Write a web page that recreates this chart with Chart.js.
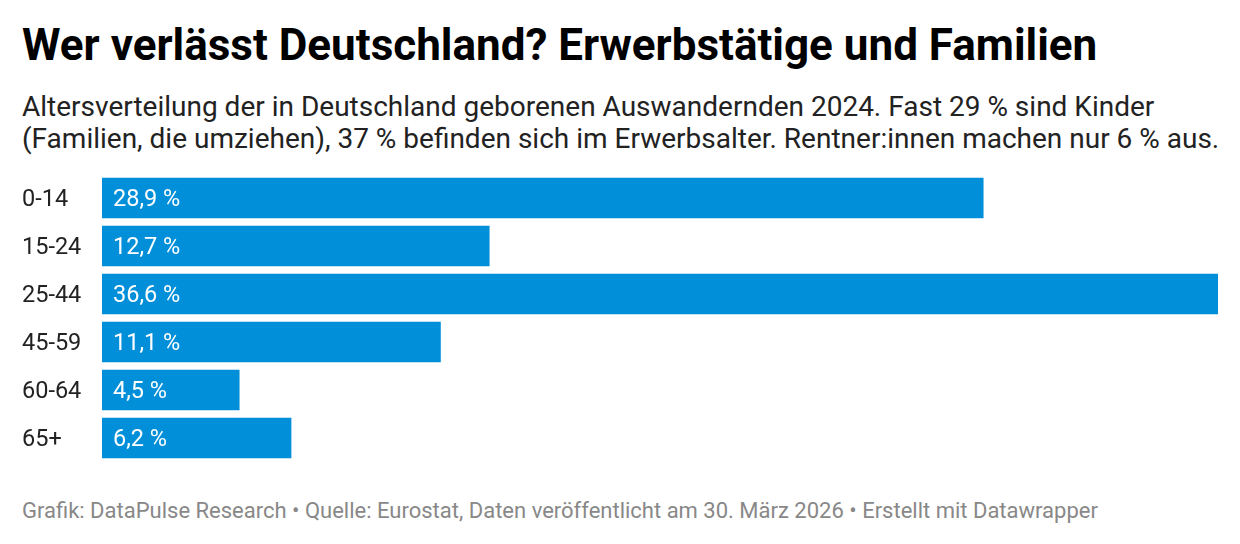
<!DOCTYPE html>
<html>
<head>
<meta charset="utf-8">
<script src="https://cdn.jsdelivr.net/npm/chart.js@4"></script>
<style>
  body { margin: 0; background: #fff; font-family: Roboto, sans-serif; }
  #wrap { position: relative; width: 1240px; height: 544px; }
  #title { position: absolute; left: 22px; top: 23px; font-size: 44px; line-height: 44px; font-weight: 700; color: #000; white-space: nowrap; }
  #subtitle { position: absolute; left: 22px; top: 91px; font-size: 28px; line-height: 32px; color: #222; white-space: nowrap; }
  #chartBox { position: absolute; left: 0; top: 174px; width: 1240px; height: 288px; }
  #footer { position: absolute; left: 22px; top: 500px; font-size: 22px; line-height: 22px; color: #888; white-space: nowrap; }
</style>
</head>
<body>
<div id="wrap">
  <div id="title">Wer verlässt Deutschland? Erwerbstätige und Familien</div>
  <div id="subtitle">Altersverteilung der in Deutschland geborenen Auswandernden 2024. Fast 29 % sind Kinder<br>(Familien, die umziehen), 37 % befinden sich im Erwerbsalter. Rentner:innen machen nur 6 % aus.</div>
  <div id="chartBox"><canvas id="bar-chart"></canvas></div>
  <div id="footer">Grafik: DataPulse Research • Quelle: Eurostat, Daten veröffentlicht am 30. März 2026 • Erstellt mit Datawrapper</div>
</div>
<script>
const ageGroups = ['0-14', '15-24', '25-44', '45-59', '60-64', '65+'];
const shares = [28.9, 12.7, 36.6, 11.1, 4.5, 6.2];

// Werte in die Balken schreiben
const valueLabels = {
  id: 'valueLabels',
  afterDatasetsDraw(chart) {
    const ctx = chart.ctx;
    const meta = chart.getDatasetMeta(0);
    ctx.save();
    ctx.fillStyle = '#fff';
    ctx.font = '23.5px Roboto';
    ctx.textBaseline = 'middle';
    meta.data.forEach((bar, i) => {
      const txt = shares[i].toFixed(1).replace('.', ',') + ' %';
      ctx.fillText(txt, bar.base + 11, bar.y + 2);
    });
    ctx.restore();
  }
};

const ctx = document.getElementById('bar-chart').getContext('2d');
new Chart(ctx, {
  type: 'bar',
  data: {
    labels: ageGroups,
    datasets: [{
      data: shares,
      backgroundColor: '#018fda',
      barThickness: 40
    }]
  },
  options: {
    indexAxis: 'y',
    responsive: true,
    maintainAspectRatio: false,
    animation: false,
    layout: { padding: { left: 22, right: 22, top: 0, bottom: 0 } },
    plugins: {
      legend: { display: false },
      tooltip: { enabled: false }
    },
    scales: {
      x: {
        display: false,
        min: 0,
        max: 36.6
      },
      y: {
        grid: { display: false },
        border: { display: false },
        ticks: {
          crossAlign: 'far',
          padding: 0,
          labelOffset: 2,
          color: '#222',
          font: { family: 'Roboto', size: 23.5 }
        },
        afterFit(scale) {
          scale.width = 80;
          scale.paddingTop = 0;
          scale.paddingBottom = 0;
        }
      }
    }
  },
  plugins: [valueLabels]
});
</script>
</body>
</html>
